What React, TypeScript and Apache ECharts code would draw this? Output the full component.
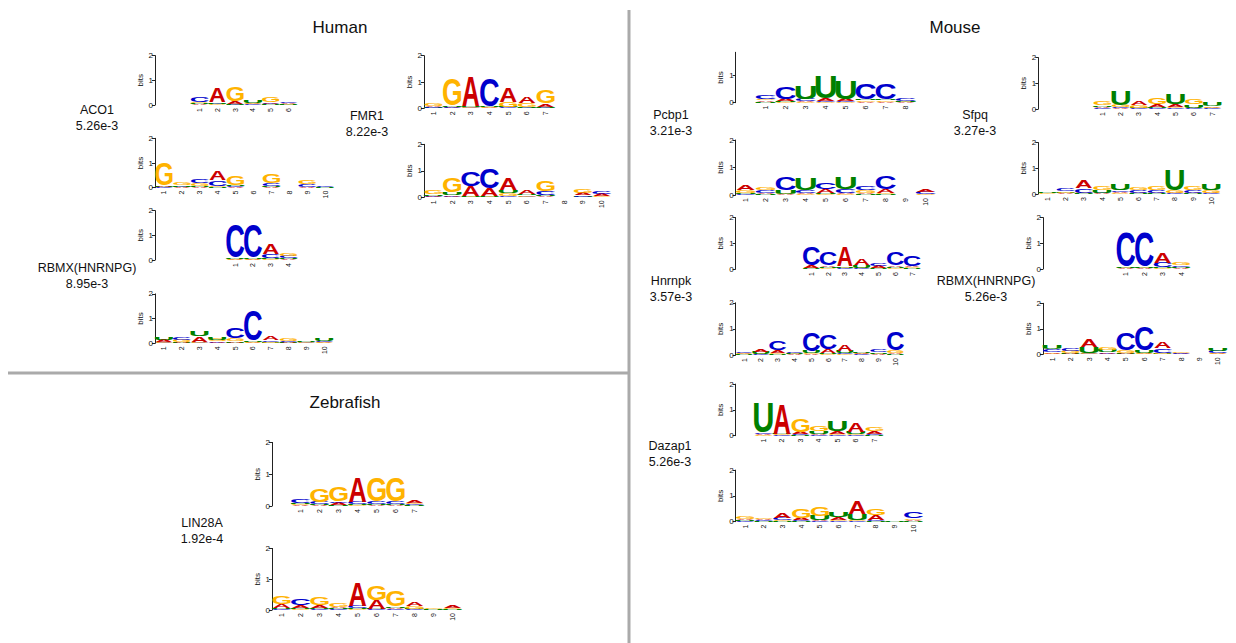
import React, { useEffect, useRef } from 'react';
import * as echarts from 'echarts';

// Nucleotide alphabet and colours
const BASES = ['A', 'C', 'G', 'U'];
const BASE_COLORS = ['#CC0000', '#0000CC', '#FFB300', '#008000'];

// Information content (bits) per motif position, columns: A, C, G, U
const aco1Query = [
  [0.03, 0.2, 0.05, 0.04],
  [0.57, 0.03, 0.02, 0.05],
  [0.12, 0.02, 0.62, 0.02],
  [0.03, 0.02, 0.04, 0.12],
  [0.06, 0.03, 0.2, 0.02],
  [0.03, 0.03, 0.02, 0.02],
];
const aco1Target = [
  [0.05, 0.02, 0.95, 0.02],
  [0.02, 0.02, 0.08, 0.05],
  [0.02, 0.17, 0.1, 0.05],
  [0.37, 0.24, 0.03, 0.02],
  [0.03, 0.04, 0.37, 0.05],
  [0, 0, 0, 0],
  [0.02, 0.1, 0.4, 0.05],
  [0, 0, 0, 0],
  [0.02, 0.13, 0.14, 0],
  [0, 0.06, 0, 0.03],
];
const fmr1Query = [
  [0.04, 0.03, 0.12, 0.02],
  [0.02, 0.02, 1.08, 0.06],
  [1.14, 0.02, 0.02, 0.05],
  [0.02, 1.1, 0.02, 0.05],
  [0.57, 0.03, 0.18, 0.03],
  [0.25, 0.02, 0.16, 0.02],
  [0.12, 0.02, 0.53, 0.04],
];
const fmr1Target = [
  [0.03, 0.02, 0.13, 0.06],
  [0.05, 0.02, 0.55, 0.12],
  [0.38, 0.6, 0.02, 0.02],
  [0.3, 0.78, 0.02, 0.02],
  [0.43, 0.03, 0.12, 0.12],
  [0.13, 0.02, 0.05, 0.06],
  [0.03, 0.13, 0.4, 0.06],
  [0, 0, 0, 0],
  [0.1, 0.05, 0.13, 0.02],
  [0.08, 0.1, 0.03, 0],
];
const rbmxHumanQuery = [
  [0.02, 1.42, 0.02, 0.04],
  [0.02, 1.42, 0.02, 0.04],
  [0.45, 0.18, 0.03, 0.03],
  [0.02, 0.08, 0.1, 0.04],
];
const rbmxHumanTarget = [
  [0.08, 0.03, 0.03, 0.11],
  [0.03, 0.13, 0.1, 0.02],
  [0.22, 0.02, 0.03, 0.24],
  [0.05, 0.02, 0.08, 0.1],
  [0.05, 0.45, 0.12, 0.03],
  [0.02, 1.32, 0.02, 0.05],
  [0.16, 0.06, 0.05, 0.02],
  [0.03, 0.05, 0.1, 0.02],
  [0, 0.02, 0.02, 0.02],
  [0.02, 0.05, 0.04, 0.11],
];
const lin28aQuery = [
  [0.03, 0.12, 0.03, 0.04],
  [0.03, 0.07, 0.42, 0.03],
  [0.06, 0.06, 0.47, 0.02],
  [0.8, 0.08, 0.02, 0.03],
  [0.02, 0.08, 0.78, 0.03],
  [0.02, 0.08, 0.78, 0.03],
  [0.08, 0.03, 0.05, 0.02],
];
const lin28aTarget = [
  [0.13, 0.03, 0.29, 0.03],
  [0.08, 0.2, 0.03, 0.04],
  [0.1, 0.03, 0.29, 0.04],
  [0.05, 0.02, 0.13, 0.04],
  [0.79, 0.1, 0.02, 0.03],
  [0.28, 0.02, 0.5, 0.02],
  [0.04, 0.02, 0.54, 0.05],
  [0.13, 0.02, 0.08, 0.02],
  [0, 0, 0.05, 0.02],
  [0.07, 0, 0.04, 0.03],
];
const pcbp1Query = [
  [0.05, 0.15, 0.05, 0.03],
  [0.08, 0.43, 0.03, 0.03],
  [0.03, 0.08, 0.02, 0.48],
  [0.08, 0.03, 0.02, 0.82],
  [0.08, 0.03, 0.02, 0.67],
  [0.04, 0.58, 0.04, 0.05],
  [0.04, 0.58, 0.04, 0.05],
  [0.02, 0.07, 0.02, 0.02],
];
const pcbp1Target = [
  [0.2, 0.03, 0.1, 0.04],
  [0.05, 0.1, 0.1, 0.03],
  [0.02, 0.5, 0.02, 0.15],
  [0.05, 0.1, 0.02, 0.45],
  [0.14, 0.25, 0.03, 0.04],
  [0.04, 0.13, 0.02, 0.46],
  [0.04, 0.16, 0.12, 0.02],
  [0.16, 0.52, 0.04, 0.02],
  [0, 0, 0, 0],
  [0.1, 0.07, 0.02, 0],
];
const sfpqQuery = [
  [0.04, 0.03, 0.16, 0.07],
  [0.03, 0.03, 0.08, 0.6],
  [0.17, 0.02, 0.1, 0.03],
  [0.12, 0.02, 0.26, 0.06],
  [0.1, 0.02, 0.06, 0.42],
  [0.03, 0.02, 0.22, 0.12],
  [0.03, 0.02, 0.06, 0.17],
];
const sfpqTarget = [
  [0, 0, 0.02, 0.06],
  [0.02, 0.1, 0.07, 0.02],
  [0.33, 0.17, 0.03, 0.02],
  [0.02, 0.03, 0.13, 0.12],
  [0.07, 0.07, 0.02, 0.24],
  [0.03, 0.1, 0.1, 0.02],
  [0.03, 0.09, 0.13, 0.02],
  [0.03, 0.02, 0.08, 0.87],
  [0.03, 0.12, 0.17, 0.02],
  [0.03, 0.02, 0.1, 0.28],
];
const hnrnpkQuery = [
  [0.1, 0.78, 0.03, 0.02],
  [0.07, 0.52, 0.02, 0.05],
  [0.78, 0.02, 0.03, 0.06],
  [0.26, 0.02, 0.03, 0.12],
  [0.08, 0.1, 0.03, 0.02],
  [0.06, 0.56, 0.03, 0.04],
  [0.06, 0.43, 0.04, 0.03],
];
const hnrnpkTarget = [
  [0.03, 0.07, 0.03, 0.02],
  [0.1, 0.02, 0.03, 0.08],
  [0.1, 0.35, 0.06, 0.02],
  [0.02, 0.04, 0.02, 0.02],
  [0.02, 0.73, 0.04, 0.1],
  [0.13, 0.57, 0.02, 0.06],
  [0.26, 0.04, 0.03, 0.08],
  [0.03, 0.02, 0.02, 0.06],
  [0.02, 0.1, 0.03, 0.07],
  [0.05, 0.73, 0.1, 0.02],
];
const rbmxMouseQuery = [
  [0.02, 1.4, 0.02, 0.04],
  [0.02, 1.4, 0.02, 0.04],
  [0.43, 0.2, 0.03, 0.03],
  [0.02, 0.07, 0.08, 0.05],
];
const rbmxMouseTarget = [
  [0.07, 0.1, 0.02, 0.13],
  [0.03, 0.13, 0.09, 0.02],
  [0.33, 0.02, 0.02, 0.25],
  [0.06, 0.02, 0.1, 0.09],
  [0.03, 0.7, 0.1, 0.02],
  [0.02, 1.0, 0.02, 0.08],
  [0.24, 0.18, 0.03, 0.02],
  [0.02, 0.02, 0.05, 0],
  [0, 0, 0, 0],
  [0.02, 0.09, 0.03, 0.09],
];
const dazap1Query = [
  [0.03, 0.04, 0.02, 1.2],
  [1.2, 0.02, 0.03, 0.04],
  [0.1, 0.03, 0.54, 0.02],
  [0.06, 0.02, 0.23, 0.1],
  [0.12, 0.02, 0.03, 0.39],
  [0.34, 0.02, 0.04, 0.1],
  [0.12, 0.03, 0.16, 0.02],
];
const dazap1Target = [
  [0.06, 0.03, 0.09, 0.03],
  [0.04, 0.03, 0.05, 0.02],
  [0.22, 0.08, 0.04, 0.02],
  [0.08, 0.03, 0.35, 0.02],
  [0.03, 0.02, 0.37, 0.18],
  [0.12, 0.02, 0.04, 0.23],
  [0.52, 0.02, 0.03, 0.26],
  [0.22, 0.03, 0.26, 0.02],
  [0, 0, 0, 0.04],
  [0.05, 0.27, 0.07, 0.02],
];

// Panel headings and motif annotations
const panelTitles = ['Human', 'Mouse', 'Zebrafish'];
const rbpNames = ['ACO1', 'FMR1', 'RBMX(HNRNPG)', 'LIN28A', 'Pcbp1', 'Sfpq', 'Hnrnpk', 'RBMX(HNRNPG)', 'Dazap1'];
const rbpScores = ['5.26e-3', '8.22e-3', '8.95e-3', '1.92e-4', '3.21e-3', '3.27e-3', '3.57e-3', '5.26e-3', '5.26e-3'];
const bitTicks = [0, 1, 2];

// ---- layout (pixels) ----
const W = 1236;
const H = 643;
const FAMILY = "'Liberation Sans', Arial, Helvetica, sans-serif";

type Placement = { axisX: number; zeroY: number; bitPx: number; slotW: number; offset: number; yMax: number };
const place = (axisX: number, zeroY: number, bitPx: number, slotW: number, offset: number, yMax = 2): Placement =>
  ({ axisX, zeroY, bitPx, slotW, offset, yMax });

const logos: { matrix: number[][]; at: Placement }[] = [
  { matrix: aco1Query, at: place(155, 105, 24.7, 17.8, 2) },
  { matrix: aco1Target, at: place(155, 187.7, 24.7, 17.9, 0) },
  { matrix: fmr1Query, at: place(424, 108.3, 26.3, 18.7, 0) },
  { matrix: fmr1Target, at: place(424, 197.3, 26.5, 18.7, 0) },
  { matrix: rbmxHumanQuery, at: place(155, 260, 24.7, 17.8, 4) },
  { matrix: rbmxHumanTarget, at: place(155, 343.3, 24.7, 17.8, 0) },
  { matrix: lin28aQuery, at: place(272, 506, 31.8, 19, 1) },
  { matrix: lin28aTarget, at: place(272, 610, 30.8, 19, 0) },
  { matrix: pcbp1Query, at: place(735.7, 102.7, 27.7, 20, 1, 1.82) },
  { matrix: pcbp1Target, at: place(735.7, 195, 27.5, 20, 0) },
  { matrix: sfpqQuery, at: place(1038.3, 109, 25.7, 18.3, 3) },
  { matrix: sfpqTarget, at: place(1038.3, 194, 25.7, 18.2, 0) },
  { matrix: hnrnpkQuery, at: place(735.7, 269, 25.7, 16.8, 4) },
  { matrix: hnrnpkTarget, at: place(735.7, 355, 26.1, 16.8, 0) },
  { matrix: rbmxMouseQuery, at: place(1043, 269, 25.7, 18.4, 4) },
  { matrix: rbmxMouseTarget, at: place(1043, 354.3, 25.5, 18.4, 0) },
  { matrix: dazap1Query, at: place(735.7, 435.7, 25.8, 18.5, 1) },
  { matrix: dazap1Target, at: place(735.7, 521.7, 25.8, 18.7, 0) },
];

const titlePos = [[340, 27], [955, 27], [345, 402]];
const namePos = [[97, 110], [367, 116], [87, 268], [202, 523], [671, 115], [975, 115], [671, 281], [986, 281], [670, 446]];

// Glyph ink boxes of the bold sans face, in em: [left, right, bottom, top, advance]
const GLYPH: number[][] = [
  [0.0, 0.72, 0.0, 0.716, 0.722],
  [0.049, 0.677, -0.019, 0.735, 0.722],
  [0.044, 0.719, -0.019, 0.735, 0.778],
  [0.073, 0.649, -0.019, 0.716, 0.722],
];
const FONT_PX = 100;
const CENTRAL = 0.3465; // alphabetic baseline sits this far (em) below the central baseline

// Stack each column: smaller letters at the bottom, the largest on top
function stackColumns(matrix: number[][], offset: number) {
  const items: number[][] = [];
  matrix.forEach((col, i) => {
    const order = col.map((h, b) => ({ h, b })).filter((d) => d.h > 0).sort((p, q) => p.h - q.h);
    let base = 0;
    for (const d of order) {
      items.push([offset + i, base, base + d.h, d.b]);
      base += d.h;
    }
  });
  return items;
}

function renderLetter(_params: any, api: any) {
  const slot = api.value(0);
  const b = api.value(3);
  const bottom = api.coord([slot, api.value(1)]);
  const top = api.coord([slot, api.value(2)]);
  const slotW = api.size([1, 0])[0];
  const [l, r, gb, gt, adv] = GLYPH[b];
  const sx = (slotW * 0.96) / ((r - l) * FONT_PX);
  const sy = Math.max(bottom[1] - top[1], 0.01) / ((gt - gb) * FONT_PX);
  const inkCenter = ((l + r) / 2 - adv / 2) * FONT_PX;
  return {
    type: 'text',
    x: bottom[0] - sx * inkCenter,
    y: bottom[1] - sy * (CENTRAL - gb) * FONT_PX,
    scaleX: sx,
    scaleY: sy,
    silent: true,
    style: {
      text: BASES[b],
      fill: BASE_COLORS[b],
      font: `bold ${FONT_PX}px ${FAMILY}`,
      align: 'center',
      verticalAlign: 'middle',
      textAlign: 'center',
      textVerticalAlign: 'middle',
    },
  };
}

function buildOption() {
  const axisColor = '#222';
  const grid = logos.map(({ matrix, at }) => ({
    left: at.axisX,
    top: at.zeroY - at.yMax * at.bitPx,
    width: at.slotW * (at.offset + matrix.length),
    height: at.yMax * at.bitPx,
    containLabel: false,
    outerBoundsMode: 'none',
  }));
  const xAxis = logos.map(({ matrix, at }, i) => ({
    type: 'category',
    gridIndex: i,
    data: [...Array(at.offset).fill(''), ...matrix.map((_, j) => String(j + 1))],
    axisLine: { show: false },
    axisTick: { show: false },
    splitLine: { show: false },
    axisLabel: {
      // slots before the motif start carry no position number
      interval: (idx: number) => idx >= at.offset,
      rotate: 90,
      fontSize: 7,
      margin: 3,
      color: '#111',
      fontFamily: FAMILY,
    },
  }));
  const yAxis = logos.map(({ at }, i) => {
    const ticks = bitTicks.filter((t) => t <= at.yMax);
    return {
      type: 'value',
      gridIndex: i,
      min: 0,
      max: at.yMax,
      interval: 1,
      name: 'bits',
      nameLocation: 'middle',
      nameGap: 11,
      nameTextStyle: { fontSize: 8, color: '#111', fontFamily: FAMILY },
      axisLine: { show: true, lineStyle: { color: axisColor, width: 1 } },
      axisTick: { show: true, length: 3, customValues: ticks, lineStyle: { color: axisColor, width: 1 } },
      axisLabel: {
        customValues: ticks,
        fontSize: 8,
        margin: 2,
        color: '#111',
        fontFamily: FAMILY,
      },
      splitLine: { show: false },
    };
  });
  const series = logos.map(({ matrix, at }, i) => ({
    type: 'custom',
    xAxisIndex: i,
    yAxisIndex: i,
    clip: false,
    silent: true,
    renderItem: renderLetter,
    data: stackColumns(matrix, at.offset),
  }));

  const graphic: any[] = [
    { type: 'line', shape: { x1: 629, y1: 10, x2: 629, y2: H }, style: { stroke: '#aaaaaa', lineWidth: 3 }, silent: true },
    { type: 'line', shape: { x1: 8, y1: 373, x2: 629, y2: 373 }, style: { stroke: '#aaaaaa', lineWidth: 3 }, silent: true },
  ];
  panelTitles.forEach((t, i) => {
    graphic.push({
      type: 'text',
      x: titlePos[i][0],
      y: titlePos[i][1],
      silent: true,
      style: { text: t, font: `17px ${FAMILY}`, fill: '#111', align: 'center', verticalAlign: 'middle' },
    });
  });
  rbpNames.forEach((n, i) => {
    const [x, y] = namePos[i];
    graphic.push({
      type: 'text', x, y, silent: true,
      style: { text: n, font: `12.5px ${FAMILY}`, fill: '#111', align: 'center', verticalAlign: 'middle' },
    });
    graphic.push({
      type: 'text', x, y: y + 16, silent: true,
      style: { text: rbpScores[i], font: `12.5px ${FAMILY}`, fill: '#111', align: 'center', verticalAlign: 'middle' },
    });
  });

  return { animation: false, backgroundColor: '#ffffff', grid, xAxis, yAxis, series, graphic };
}

export default function App() {
  const ref = useRef<HTMLDivElement>(null);
  useEffect(() => {
    document.body.style.margin = '0';
    if (!ref.current) return;
    const chart = echarts.init(ref.current, undefined, { renderer: 'svg', width: W, height: H });
    chart.setOption(buildOption() as any);
    return () => chart.dispose();
  }, []);
  return <div ref={ref} style={{ width: W, height: H }} />;
}
